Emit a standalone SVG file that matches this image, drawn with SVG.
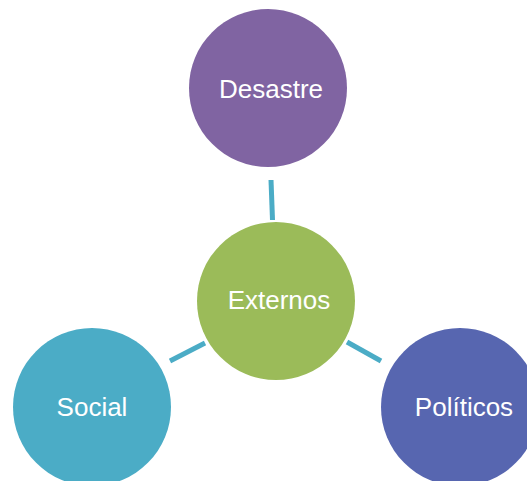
<svg xmlns="http://www.w3.org/2000/svg" width="527" height="481" viewBox="0 0 527 481">
<style>
.lbl{font-family:"Liberation Sans",Arial,sans-serif;font-size:26px;fill:#ffffff;text-anchor:middle}
.conn{stroke:#4BACC6;stroke-width:5;fill:none}
</style>
<rect width="527" height="481" fill="#ffffff"/>
<g id="connectors">
<line class="conn" x1="271" y1="180" x2="272.5" y2="220"/>
<line class="conn" x1="170" y1="361" x2="205" y2="343"/>
<line class="conn" x1="347" y1="342" x2="381" y2="361"/>
</g>
<g id="desastre">
<circle cx="268" cy="88" r="79" fill="#8064A2"/>
<text class="lbl" x="271" y="98">Desastre</text>
</g>
<g id="externos">
<circle cx="276" cy="301" r="79" fill="#9BBB59"/>
<text class="lbl" x="279" y="309">Externos</text>
</g>
<g id="social">
<circle cx="92" cy="407" r="79" fill="#4BACC6"/>
<text class="lbl" x="92" y="416">Social</text>
</g>
<g id="politicos">
<circle cx="460" cy="407" r="79" fill="#5766B0"/>
<text class="lbl" x="464" y="416">Políticos</text>
</g>
</svg>
